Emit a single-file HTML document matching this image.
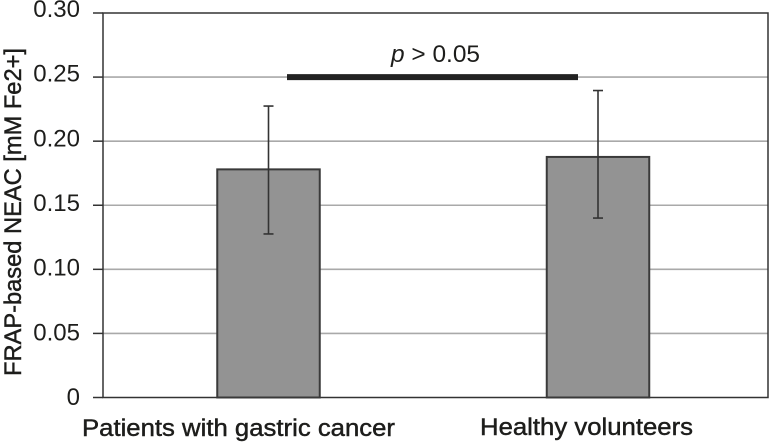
<!DOCTYPE html>
<html>
<head>
<meta charset="utf-8">
<style>
html,body{margin:0;padding:0;background:#fff;width:769px;height:442px;overflow:hidden}
svg{display:block}
text{font-family:"Liberation Sans",sans-serif;fill:#1d1d1b}
</style>
</head>
<body>
<svg id="chart" xmlns="http://www.w3.org/2000/svg" width="769" height="442" viewBox="0 0 769 442"></svg>
<script>
const categories = ["Patients with gastric cancer", "Healthy volunteers"];
const means = [0.178, 0.1877];
const errorHigh = [0.2274, 0.2395];
const errorLow = [0.1276, 0.14];
const tickValues = [0, 0.05, 0.10, 0.15, 0.20, 0.25, 0.30];
const tickLabels = ["0", "0.05", "0.10", "0.15", "0.20", "0.25", "0.30"];
const significanceValue = 0.25;
const yMax = 0.30;

const svg = document.getElementById('chart');
const NS = 'http://www.w3.org/2000/svg';
const plotLeft = 103, plotRight = 768, plotTop = 13, plotBottom = 397.5;

function y(v) { return plotBottom - (v / yMax) * (plotBottom - plotTop); }
function labelY(v) { return 405 - (v / yMax) * 388; }
function xCenter(i) { return 268.5 + i * 329.5; }

function make(tag, attrs, text) {
  const el = document.createElementNS(NS, tag);
  for (const k in attrs) el.setAttribute(k, attrs[k]);
  if (text !== undefined) el.textContent = text;
  svg.appendChild(el);
  return el;
}

// gridlines
tickValues.forEach(function (v) {
  if (v === 0 || v === yMax) return;
  const g = make('line', {x1: plotLeft, x2: plotRight, y1: y(v), y2: y(v), stroke: '#a9a9a9', 'stroke-width': 1.6});
  
  
});

// plot frame
const frame = make('rect', {x: plotLeft, y: plotTop, width: plotRight - plotLeft, height: plotBottom - plotTop, fill: 'none', stroke: '#333', 'stroke-width': 1.5});



// ticks and labels
tickValues.forEach(function (v, i) {
  const t = make('line', {x1: 93, x2: plotLeft, y1: y(v), y2: y(v), stroke: '#333', 'stroke-width': 1.5});
  
  
  const l = make('text', {x: 80, y: labelY(v), 'text-anchor': 'end', 'font-size': 24}, tickLabels[i]);
  
  
});

// bars
means.forEach(function (m, i) {
  const cx = xCenter(i);
  const b = make('rect', {x: cx - 51.25, y: y(m), width: 102.5, height: plotBottom - y(m), fill: '#939393', stroke: '#3a3a3a', 'stroke-width': 2});
  
  
});

// error bars
means.forEach(function (m, i) {
  const cx = xCenter(i);
  const hi = y(errorHigh[i]), lo = y(errorLow[i]);
  const s = make('line', {x1: cx, x2: cx, y1: hi, y2: lo, stroke: '#333', 'stroke-width': 1.6});
  
  
  const c1 = make('line', {x1: cx - 5, x2: cx + 5, y1: hi, y2: hi, stroke: '#333', 'stroke-width': 1.6});
  
  
  const c2 = make('line', {x1: cx - 5, x2: cx + 5, y1: lo, y2: lo, stroke: '#333', 'stroke-width': 1.6});
  
  
});

// significance bar
const sig = make('line', {x1: 287, x2: 578, y1: y(significanceValue), y2: y(significanceValue), stroke: '#222', 'stroke-width': 6});



// category labels
const catBaselines = [436, 435];
const catLengths = [313, 213];
categories.forEach(function (c, i) {
  const cl = make('text', {x: i === 0 ? 82 : 480, y: catBaselines[i], 'font-size': 24, stroke: '#1d1d1b', 'stroke-width': 0.45, textLength: catLengths[i], lengthAdjust: 'spacingAndGlyphs'}, c);
  
  
});
</script>
<svg xmlns="http://www.w3.org/2000/svg" width="769" height="442" viewBox="0 0 769 442" style="position:absolute;left:0;top:0">
  <text x="391" y="62" font-size="24" textLength="89" lengthAdjust="spacingAndGlyphs"><tspan font-style="italic">p</tspan> &gt; 0.05</text>
  <text transform="translate(21,376) rotate(-90)" x="0" y="0" font-size="24" stroke="#1d1d1b" stroke-width="0.45" textLength="328" lengthAdjust="spacingAndGlyphs">FRAP-based NEAC [mM Fe2+]</text>
</svg>
</body>
</html>
